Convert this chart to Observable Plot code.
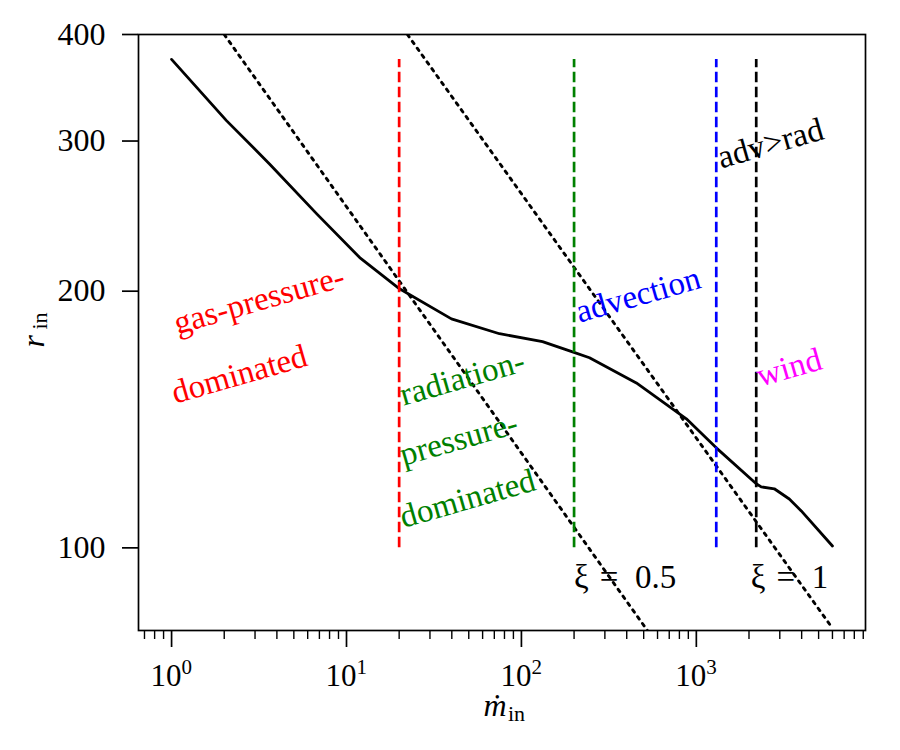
<!DOCTYPE html>
<html>
<head>
<meta charset="utf-8">
<script src="https://cdn.jsdelivr.net/npm/d3@7"></script>
<script src="https://cdn.jsdelivr.net/npm/@observablehq/plot@0.6"></script>
<style>
  html, body { margin: 0; padding: 0; background: #fff; }
  #chart svg { display: block; }
</style>
</head>
<body>
<div id="chart"></div>
<script>
// Inner radius r_in versus accretion rate (log-log)
const curveM = [1.0, 2.06, 3.63, 6.74, 11.9, 20.1, 39.8, 74.9, 132, 196, 245, 454, 877, 1300, 2200, 2350, 2790, 3400, 3980, 6000];
const curveR = [374, 317, 282, 246.6, 219, 201.3, 185.6, 178.3, 174.5, 169.8, 167.1, 156.1, 141.7, 131.0, 118.9, 117.9, 117.3, 114.1, 110.5, 100.5];

// Reference power laws (dotted), given by their end points
const xiNames = ["xi05", "xi1"];
const xiM = [[2.0, 525], [22.3, 6000]];
const xiR = [[400, 80], [400, 80.5]];

// Regime boundaries (vertical dashed lines)
const boundM = [20, 200, 1300, 2200];
const boundColor = ["red", "green", "blue", "black"];
const boundLow = 100;
const boundHigh = 374;

// Regime labels
const labelText = ["gas-pressure-", "dominated", "radiation-", "pressure-", "dominated", "advection", "adv>rad", "wind"];
const labelM = [1.08, 1.05, 21.2, 21.2, 21.2, 214.5, 1390, 2321];
const labelR = [178, 147.6, 146.8, 124.8, 105.5, 183.6, 278.5, 154.5];
const labelColor = ["red", "red", "green", "green", "green", "blue", "black", "magenta"];

// ξ labels
const xiText = ["ξ\u2004=\u20020.5", "ξ\u2004=\u20021"];
const xiTextM = [200, 2050];
const xiTextR = [89.8, 89.8];

// Axis ticks
const xMajor = [1, 10, 100, 1000];
const xExponent = ["0", "1", "2", "3"];
const xMinor = [0.7, 0.8, 0.9, 2, 3, 4, 5, 6, 7, 8, 9, 20, 30, 40, 50, 60, 70, 80, 90,
  200, 300, 400, 500, 600, 700, 800, 900, 2000, 3000, 4000, 5000, 6000, 7000, 8000, 9000];
const yMajor = [100, 200, 300, 400];

const curve = curveM.map((m, i) => ({m, r: curveR[i]}));
const xiLines = xiNames.flatMap((name, k) => xiM[k].map((m, i) => ({name, m, r: xiR[k][i]})));
const bounds = boundM.map((m, i) => ({m, color: boundColor[i]}));
const labels = labelText.map((text, i) => ({text, m: labelM[i], r: labelR[i], color: labelColor[i]}));
const xiLabels = xiText.map((text, i) => ({text, m: xiTextM[i], r: xiTextR[i]}));
const xTicks = xMajor.map((v, i) => ({v, e: xExponent[i]}));

const serif = "'Liberation Serif', 'Times New Roman', serif";
const lw = 2.8;

const chart = Plot.plot({
  width: 900,
  height: 750,
  marginLeft: 138,
  marginRight: 35,
  marginTop: 34,
  marginBottom: 120,
  style: {fontFamily: serif, background: "#fff", color: "#000"},
  x: {type: "log", domain: [0.647, 9270]},
  y: {type: "log", domain: [80, 400]},
  marks: [
    // main curve
    Plot.line(curve, {x: "m", y: "r", stroke: "black", strokeWidth: lw}),
    // dotted power laws
    Plot.line(xiLines, {x: "m", y: "r", z: "name", stroke: "black", strokeWidth: 2.9,
      strokeDasharray: "2.9,5.5", clip: true}),
    // regime boundaries
    Plot.ruleX(bounds, {x: "m", y1: boundLow, y2: boundHigh, stroke: "color",
      strokeWidth: 2.7, strokeDasharray: "10.5,4.5"}),
    // regime labels
    Plot.text(labels, {x: "m", y: "r", text: "text", fill: "color", rotate: -16,
      textAnchor: "start", lineAnchor: "bottom", fontSize: 33}),
    Plot.text(xiLabels, {x: "m", y: "r", text: "text", fill: "black",
      textAnchor: "start", lineAnchor: "bottom", fontSize: 33}),
    // frame
    Plot.frame({stroke: "black", strokeWidth: 1.7}),
    // x axis: ticks and 10^k labels
    Plot.axisX({ticks: xMajor, tickSize: 17, strokeWidth: 1.7, tickFormat: () => "", label: null}),
    Plot.axisX({ticks: xMinor, tickSize: 9, strokeWidth: 1.4, tickFormat: () => "", label: null}),
    Plot.text(xTicks, {x: "v", frameAnchor: "bottom", text: () => "10", textAnchor: "end",
      lineAnchor: "bottom", dx: 10, dy: 55, fontSize: 31}),
    Plot.text(xTicks, {x: "v", frameAnchor: "bottom", text: "e", textAnchor: "start",
      lineAnchor: "bottom", dx: 10, dy: 43, fontSize: 21}),
    // y axis
    Plot.axisY({ticks: yMajor, tickSize: 16, strokeWidth: 1.7, tickPadding: 17,
      tickFormat: d => String(d), fontSize: 32, label: null}),
    // axis titles
    Plot.text([0], {frameAnchor: "bottom", text: () => "ṁ", fontStyle: "italic",
      textAnchor: "start", lineAnchor: "bottom", dx: -18.5, dy: 85, fontSize: 32}),
    Plot.text([0], {frameAnchor: "bottom", text: () => "in", textAnchor: "start",
      lineAnchor: "bottom", dx: 6, dy: 90, fontSize: 22}),
    Plot.text([0], {frameAnchor: "left", text: () => "r", fontStyle: "italic", rotate: -90,
      textAnchor: "start", lineAnchor: "bottom", dx: -95, dy: 15, fontSize: 32}),
    Plot.text([0], {frameAnchor: "left", text: () => "in", rotate: -90,
      textAnchor: "start", lineAnchor: "bottom", dx: -92, dy: -3, fontSize: 22})
  ]
});

document.getElementById("chart").appendChild(chart);
</script>
</body>
</html>
